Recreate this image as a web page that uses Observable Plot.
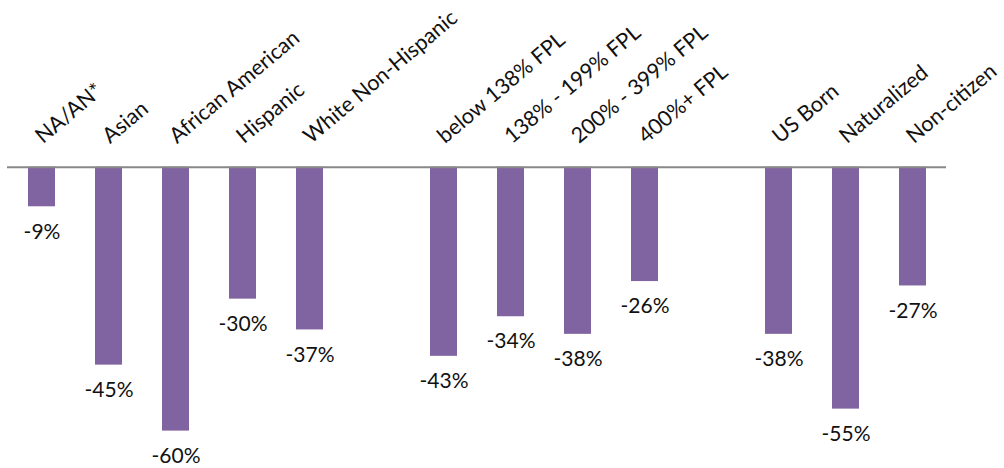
<!DOCTYPE html>
<html>
<head>
<meta charset="utf-8">
<script src="https://cdn.jsdelivr.net/npm/d3@7"></script>
<script src="https://cdn.jsdelivr.net/npm/@observablehq/plot@0.6"></script>
<style>
  html, body { margin: 0; padding: 0; background: #fff; }
  #chart svg { display: block; }
</style>
</head>
<body>
<div id="chart"></div>
<script>
// Categories in display order; empty slots separate the three groups
const slots = ["NA/AN*", "Asian", "African American", "Hispanic", "White Non-Hispanic",
  "gap1",
  "below 138% FPL", "138% - 199% FPL", "200% - 399% FPL", "400%+ FPL",
  "gap2",
  "US Born", "Naturalized", "Non-citizen"];
const categories = ["NA/AN*", "Asian", "African American", "Hispanic", "White Non-Hispanic",
  "below 138% FPL", "138% - 199% FPL", "200% - 399% FPL", "400%+ FPL",
  "US Born", "Naturalized", "Non-citizen"];
const values = [-9, -45, -60, -30, -37, -43, -34, -38, -26, -38, -55, -27];

const data = categories.map((c, i) => ({category: c, value: values[i]}));

const chart = Plot.plot({
  width: 1004,
  height: 468,
  marginLeft: 7,
  marginRight: 58,
  marginTop: 0,
  marginBottom: 0,
  style: {fontFamily: "Lato, 'Open Sans', sans-serif", background: "#fff"},
  x: {domain: slots, paddingInner: 0.6, paddingOuter: 0.3, axis: null},
  y: {domain: [-68.5, 37.9], axis: null},
  marks: [
    Plot.barY(data, {x: "category", y: "value", fill: "#8064A2"}),
    Plot.ruleY([0], {stroke: "#888888", strokeWidth: 2}),
    Plot.text(data, {
      x: "category", y: "value",
      text: d => d.value + "%",
      dy: 25, fontSize: 21, fill: "#111", lineAnchor: "middle"
    }),
    Plot.text(data, {
      x: "category", y: () => 0,
      text: "category",
      rotate: -40, textAnchor: "start", lineAnchor: "bottom",
      dx: 1, dy: -23, fontSize: 21.5, fill: "#111"
    })
  ]
});
document.getElementById("chart").appendChild(chart);
</script>
</body>
</html>
